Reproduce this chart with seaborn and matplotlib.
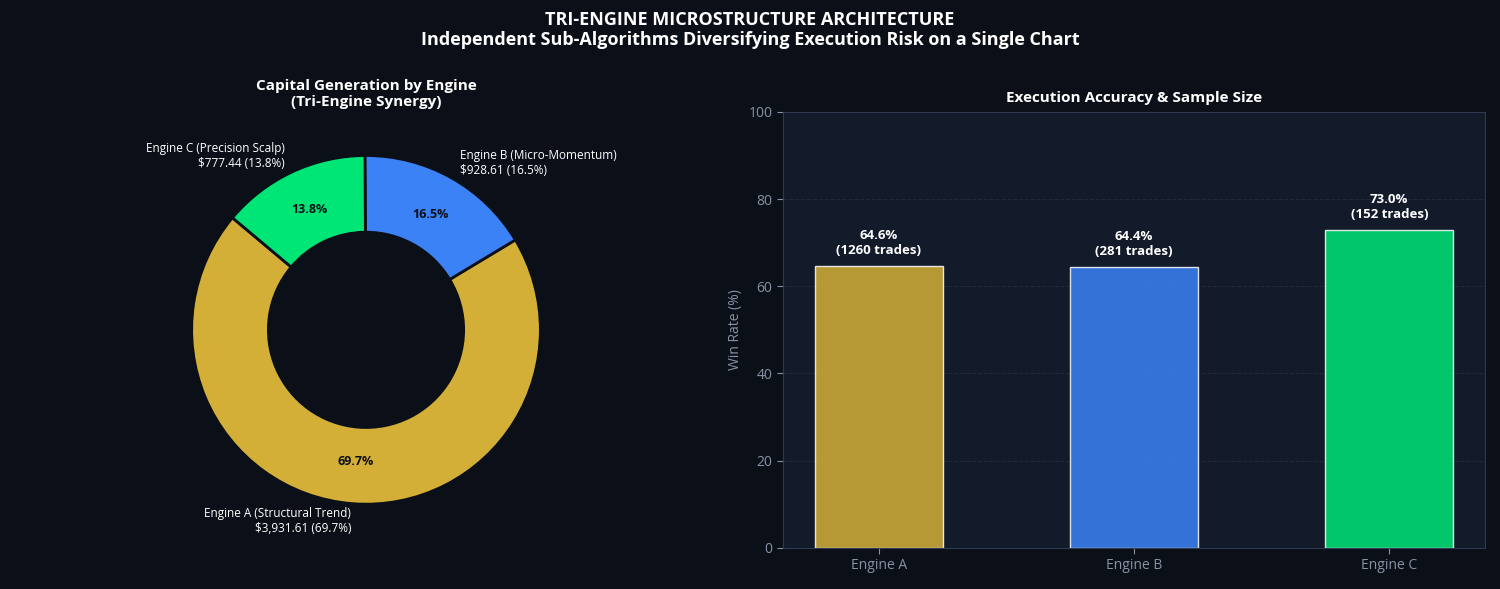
import numpy as np
import pandas as pd
import matplotlib
matplotlib.use("Agg")
import matplotlib.pyplot as plt
import seaborn as sns

# =========================
# DATA
# =========================
engines = ["Engine A", "Engine B", "Engine C"]
engine_names = ["Engine A (Structural Trend)", "Engine B (Micro-Momentum)", "Engine C (Precision Scalp)"]
profits = [3931.61, 928.61, 777.44]
win_rates = [64.6, 64.4, 73.0]
trade_counts = [1260, 281, 152]
colors = ["#D4AF37", "#3B82F6", "#00E676"]

BG = "#0b0f17"
PANEL = "#131a2a"
TXT = "#8892a6"

sns.set_style("dark")
plt.rcParams["font.family"] = ["Open Sans", "DejaVu Sans"]
plt.rcParams["figure.facecolor"] = BG

fig, (ax1, ax2) = plt.subplots(1, 2, figsize=(15, 5.89), dpi=100)
fig.subplots_adjust(left=0.01, right=0.99, bottom=0.07, top=0.81, wspace=0.094)

# =========================
# DONUT
# =========================
total = sum(profits)
labels = [f"{n}\n${p:,.2f} ({p / total * 100:.1f}%)" for n, p in zip(engine_names, profits)]
wedges, texts, autotexts = ax1.pie(
    profits,
    labels=labels,
    colors=colors,
    startangle=140,
    autopct="%1.1f%%",
    pctdistance=0.76,
    wedgeprops=dict(width=0.44, edgecolor=BG, linewidth=2),
    textprops=dict(color="white", fontsize=8.5),
)
for t in autotexts:
    t.set_color(BG)
    t.set_fontweight("bold")
    t.set_fontsize(9)
ax1.set_facecolor(BG)
ax1.set_title("Capital Generation by Engine\n(Tri-Engine Synergy)", color="white",
              fontsize=11, fontweight="bold", pad=4)

# =========================
# BARS
# =========================
df = pd.DataFrame({"engine": engines, "win_rate": win_rates, "trades": trade_counts})
sns.barplot(data=df, x="engine", y="win_rate", hue="engine", palette=colors, saturation=1,
            width=0.5, alpha=0.85, edgecolor="white", linewidth=1, legend=False, ax=ax2)
ax2.set_facecolor(PANEL)
ax2.set_ylim(0, 100)
ax2.set_xlim(-0.375, 2.375)
ax2.set_xlabel("")
ax2.set_ylabel("Win Rate (%)", color=TXT, fontsize=10)
ax2.set_title("Execution Accuracy & Sample Size", color="white", fontsize=11, fontweight="bold", pad=7)
ax2.tick_params(colors=TXT, labelsize=10, length=4, left=True, bottom=True)
ax2.yaxis.grid(True, linestyle="--", color="#2a3447", alpha=0.6, linewidth=0.8)
ax2.xaxis.grid(False)
ax2.set_axisbelow(True)
for s in ax2.spines.values():
    s.set_color("#2e3a50")
for i, (wr, n) in enumerate(zip(win_rates, trade_counts)):
    ax2.text(i, wr + 2, f"{wr:.1f}%\n({n} trades)", ha="center", va="bottom",
             color="white", fontsize=9.5, fontweight="bold")

fig.suptitle("TRI-ENGINE MICROSTRUCTURE ARCHITECTURE\nIndependent Sub-Algorithms Diversifying Execution Risk on a Single Chart",
             color="white", fontsize=13, fontweight="bold", y=0.982, linespacing=1.15)

fig.savefig("out.png", facecolor=BG)
